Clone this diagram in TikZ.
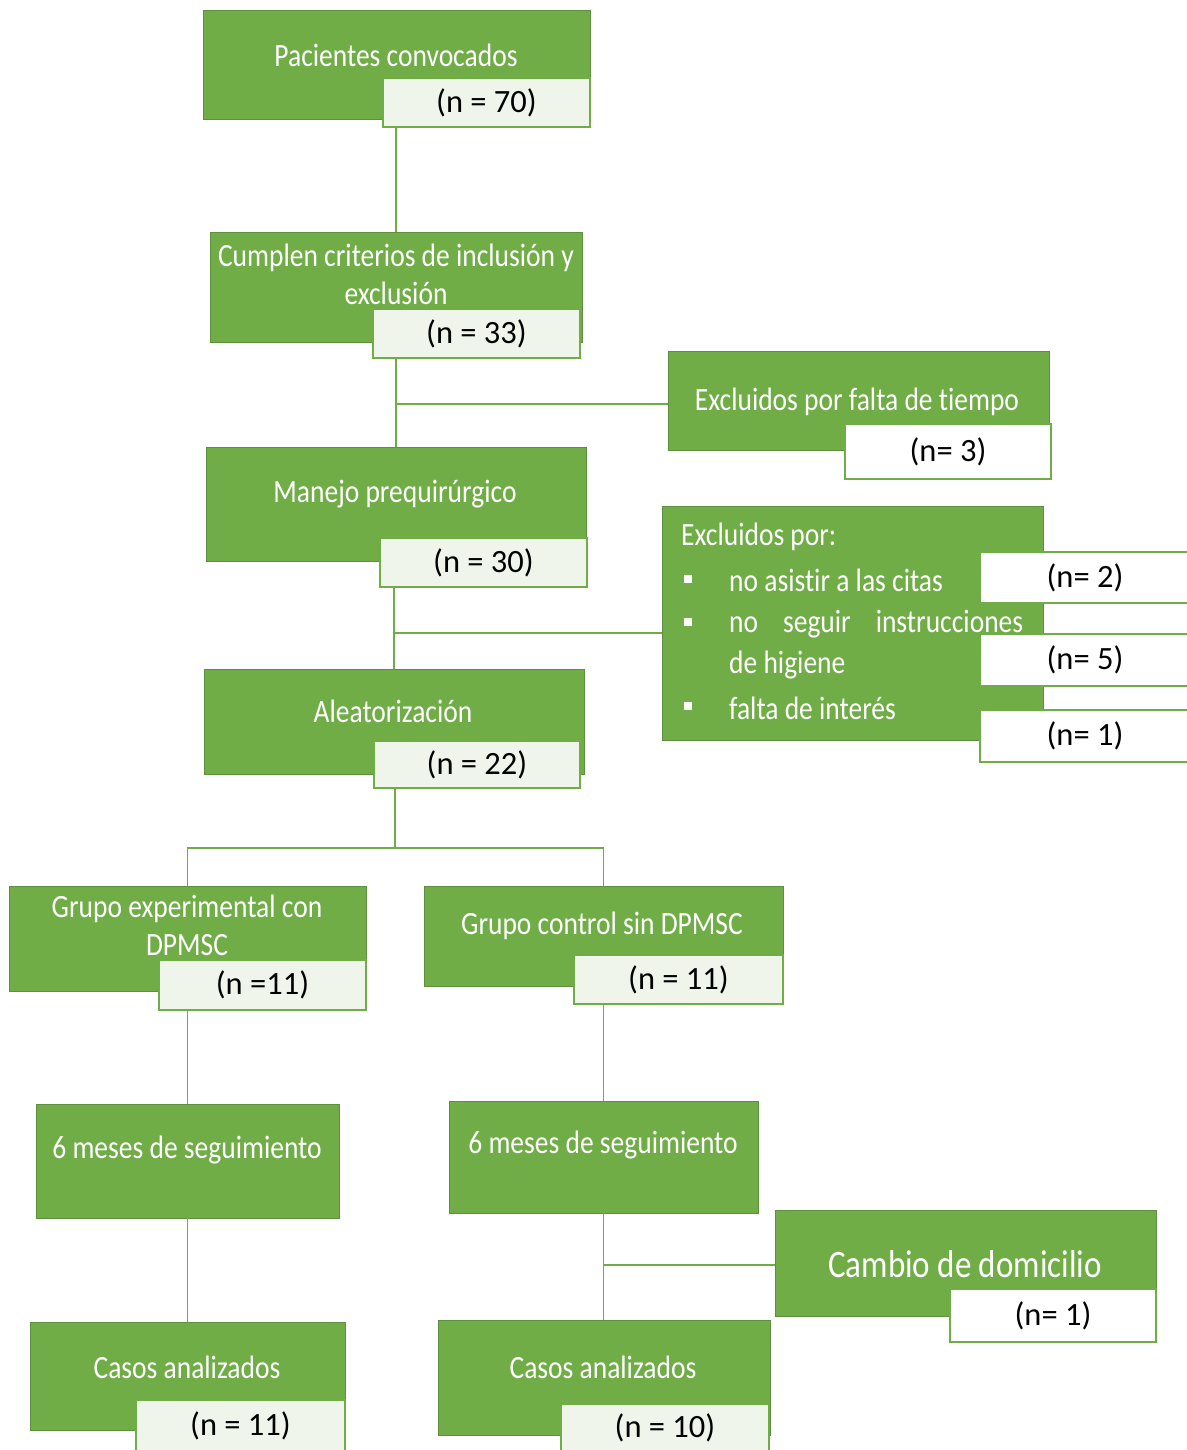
\documentclass[tikz,border=0pt]{standalone}
\usepackage{graphicx}
\usepackage{fontspec}
\setmainfont{Carlito}[Ligatures={NoCommon}]
\definecolor{gfill}{HTML}{70AD47}
\definecolor{gline}{HTML}{5E8F3E}
\definecolor{nfill}{HTML}{EFF5EB}
\definecolor{cline}{HTML}{70AD47}
\newcommand\bx[7]{\node[#1, minimum width={#5pt-#3pt}, minimum height={#6pt-#4pt}] (#2) at ({(#3+#5)/2},{(#4+#6)/2}) {#7};}
\newcommand\st[1]{\scalebox{1}[1.18]{#1}}
\begin{document}
\begin{tikzpicture}[x=1pt,y=-1pt,
 gb/.style={draw=gline, fill=gfill, line width=1pt, inner sep=0, outer sep=0},
 nb/.style={draw=cline, fill=nfill, line width=1.6pt, inner sep=0, outer sep=0, font=\fontsize{32.5}{38}\selectfont},
 wb/.style={nb, fill=white},
 gt/.style={text=white, font=\fontsize{27.5}{33}\selectfont, inner sep=0},
 bul/.style={fill=white, minimum size=8pt, inner sep=0},
 conn/.style={draw=cline, line width=1.8pt}]
\useasboundingbox[fill=white] (0,0) rectangle (1186,1450);
\coordinate (j1) at (396,404);
\coordinate (j2) at (394,633);
\coordinate (split) at (395,848);
\coordinate (j3) at (603,1265);
% boxes
\bx{gb}{p1}{203}{11}{590}{120}{}
\node[gt] (p1t) at (396,55) {\st{Pacientes convocados}};
\bx{nb}{p1n}{383}{78}{590}{127}{(n = 70)}

\bx{gb}{p2}{210}{232}{582}{342}{}
\node[gt] (p2t) at (396,258) {\st{Cumplen criterios de inclusión y}};
\node[gt] (p2u) at (396,293) {\st{exclusión}};
\bx{nb}{p2n}{373}{309}{580}{358}{(n = 33)}

\bx{gb}{e1}{668}{351}{1049}{450}{}
\node[gt] (e1t) at (857,402) {\st{Excluidos por falta de tiempo}};
\bx{wb}{e1n}{845}{424}{1051}{479}{(n= 3)}

\bx{gb}{p3}{206}{447}{586}{561}{}
\node[gt] (p3t) at (395,494) {\st{Manejo prequirúrgico}};
\bx{nb}{p3n}{380}{538}{587}{587}{(n = 30)}

\bx{gb}{e2}{662}{506}{1043}{740}{}
\node[gt, anchor=west] (e2t) at (681,537) {\st{Excluidos por:}};
\node[bul] (b1) at (688,579) {};
\node[bul] (b2) at (688,622) {};
\node[bul] (b3) at (688,706) {};
\node[gt, anchor=west] (e2a) at (729,580) {\st{no asistir a las citas}};
\node[gt, anchor=west] (e2b) at (729,624) {\st{\makebox[294pt][s]{no seguir instrucciones}}};
\node[gt, anchor=west] (e2c) at (729,665) {\st{de higiene}};
\node[gt, anchor=west] (e2d) at (729,708) {\st{falta de interés}};
\bx{wb}{e2n1}{980}{552}{1190}{603}{(n= 2)}
\bx{wb}{e2n2}{980}{634}{1190}{686}{(n= 5)}
\bx{wb}{e2n3}{980}{710}{1190}{762}{(n= 1)}

\bx{gb}{p4}{204}{669}{584}{774}{}
\node[gt] (p4t) at (393,711) {\st{Aleatorización}};
\bx{nb}{p4n}{374}{741}{580}{788}{(n = 22)}

\bx{gb}{g1}{9}{886}{366}{991}{}
\node[gt] (g1t) at (187,909) {\st{Grupo experimental con}};
\node[gt] (g1u) at (187,945) {\st{DPMSC}};
\bx{nb}{g1n}{159}{960}{366}{1010}{(n =11)}

\bx{gb}{g2}{424}{886}{783}{986}{}
\node[gt] (g2t) at (602,926) {\st{Grupo control sin DPMSC}};
\bx{nb}{g2n}{574}{955}{783}{1004}{(n = 11)}

\bx{gb}{m1}{36}{1104}{339}{1218}{}
\node[gt] (m1t) at (187,1150) {\st{6 meses de seguimiento}};
\bx{gb}{m2}{449}{1101}{758}{1213}{}
\node[gt] (m2t) at (603,1145) {\st{6 meses de seguimiento}};

\bx{gb}{cd}{775}{1210}{1156}{1316}{}
\node[gt, font=\fontsize{33}{38}\selectfont] (cdt) at (965,1264) {\st{Cambio de domicilio}};
\bx{wb}{cdn}{950}{1289}{1156}{1342}{(n= 1)}

\bx{gb}{c1}{30}{1322}{345}{1430}{}
\node[gt] (c1t) at (187,1367) {\st{Casos analizados}};
\bx{nb}{c1n}{136}{1400}{345}{1452}{(n = 11)}

\bx{gb}{c2}{438}{1320}{770}{1435}{}
\node[gt] (c2t) at (603,1367) {\st{Casos analizados}};
\bx{nb}{c2n}{561}{1404}{769}{1452}{(n = 10)}

% connectors
\draw[conn] (p1n.south -| p2.north) -- (p2.north);
\draw[conn] (p2n.south -| p2.north) -- (p3.north -| p2.north);
\draw[conn] (j1) -- (j1 -| e1.west);
\draw[conn] (p3n.south -| p4.north) -- (p4.north);
\draw[conn] (j2) -- (j2 -| e2.west);
\draw[conn] (p4n.south -| split) -- (split);
\draw[conn] (g1.north) |- (split) -| (g2.north);
\draw[conn] (g1n.south -| g1.north) -- (m1.north);
\draw[conn] (g2n.south -| g2.north) -- (m2.north);
\draw[conn] (m1.south) -- (c1.north);
\draw[conn] (m2.south) -- (m2.south |- c2.north);
\draw[conn] (j3) -- (j3 -| cd.west);
\end{tikzpicture}
\end{document}
